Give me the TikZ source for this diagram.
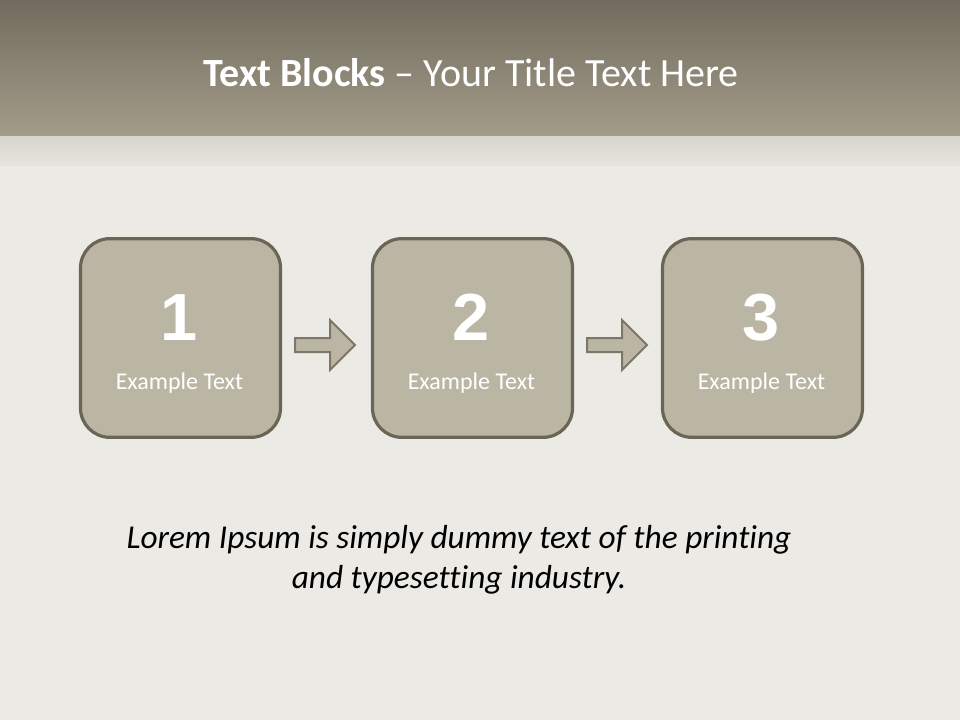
\documentclass[tikz,border=0pt]{standalone}
\usepackage{fontspec}
\setmainfont{Carlito}[Ligatures=NoCommon]
\newfontfamily\numfont{Liberation Sans}
\definecolor{bandtop}{HTML}{726C5E}
\definecolor{bandbot}{HTML}{A39C8A}
\definecolor{strip}{HTML}{D8D6CE}
\definecolor{paper}{HTML}{EBEAE5}
\definecolor{boxfill}{HTML}{BBB5A4}
\definecolor{boxline}{HTML}{6B6556}
\definecolor{arrline}{HTML}{7D7767}
\begin{document}
\begin{tikzpicture}[x=0.75pt,y=-0.75pt,
  blockbox/.style={draw=boxline,fill=boxfill,line width=2.4pt,rounded corners=22pt,
    minimum width=150pt,minimum height=149pt,inner sep=0pt},
  numtext/.style={text=white,font=\numfont\bfseries\fontsize{50}{50}\selectfont,inner sep=0pt},
  extext/.style={text=white,font=\fontsize{18}{21}\selectfont,inner sep=0pt},
  blockarrow/.style={draw=arrline,fill=boxfill,line width=1.5pt,line join=miter}]
\useasboundingbox (0,0) rectangle (960,720);
\fill[paper] (0,0) rectangle (960,720);
\shade[top color=bandtop,bottom color=bandbot] (0,0) rectangle (960,137);
\shade[top color=strip,bottom color=paper!70!strip] (0,137) rectangle (960,166);
\node[text=white,font=\fontsize{30}{36}\selectfont,inner sep=0pt,anchor=base] (title) at (471,87)
  {\textbf{Text Blocks} – Your Title Text Here};
\foreach \i/\x in {1/180.5,2/472.5,3/762.5}{
  \node[blockbox] (b\i) at (\x,338) {};
  \node[numtext,anchor=base] (n\i) at (\x-1,340) {\i};
  \node[extext,anchor=base] (e\i) at (\x-1,389) {Example Text};
}
\foreach \dx in {0,292}{
  \draw[blockarrow] (295+\dx,338) -- (330+\dx,338) -- (330+\dx,320) -- (355+\dx,345)
    -- (330+\dx,370) -- (330+\dx,352) -- (295+\dx,352) -- cycle;
}
\node[font=\itshape\fontsize{25}{30}\selectfont,align=center,inner sep=0pt,anchor=base] (lorem) at (459,588)
  {Lorem Ipsum is simply dummy text of the printing\\and typesetting industry.};
\end{tikzpicture}
\end{document}
